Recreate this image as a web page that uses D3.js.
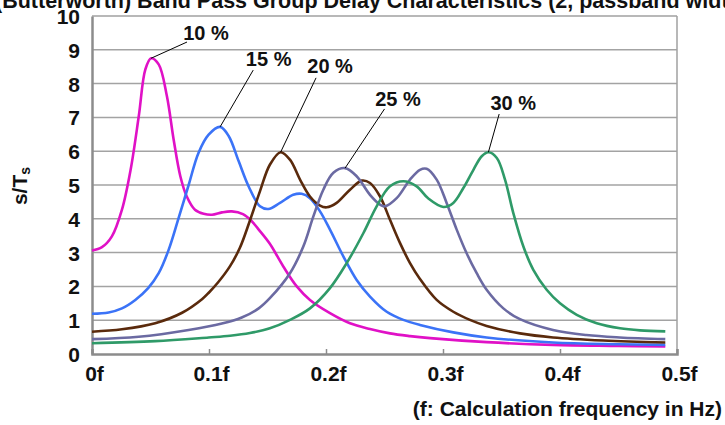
<!DOCTYPE html>
<html><head><meta charset="utf-8">
<script src="https://cdn.jsdelivr.net/npm/d3@7"></script>
<style>
html,body{margin:0;padding:0;background:#fff;overflow:hidden;}
text{font-family:"Liberation Sans",Arial,sans-serif;font-weight:bold;fill:#111;}
</style></head>
<body>
<svg id="c" width="725" height="425"></svg>
<script>
// ---- data ----
const titleText = "(Butterworth) Band Pass Group Delay Characteristics (2, passband width)";
const xTicks = [0, 0.1, 0.2, 0.3, 0.4, 0.5];
const xTickLabels = ["0f", "0.1f", "0.2f", "0.3f", "0.4f", "0.5f"];
const yTicks = [0,1,2,3,4,5,6,7,8,9,10];
const seriesNames = ["10 %", "15 %", "20 %", "25 %", "30 %"];

const f10 = [0, 0.0085, 0.017, 0.0256, 0.033, 0.040, 0.0456, 0.0505, 0.057, 0.064, 0.0698, 0.0755, 0.081, 0.088, 0.0954, 0.1026, 0.111, 0.1195, 0.129, 0.136, 0.1425, 0.152, 0.1635, 0.175, 0.1863, 0.2034, 0.2205, 0.2376, 0.2547, 0.2718, 0.289, 0.3373, 0.394, 0.45, 0.49];
const g10 = [3.06, 3.16, 3.48, 4.27, 5.45, 7.04, 8.42, 8.75, 8.57, 7.63, 6.34, 5.26, 4.66, 4.27, 4.15, 4.12, 4.19, 4.22, 4.14, 3.95, 3.68, 3.26, 2.59, 2.0, 1.60, 1.21, 0.91, 0.74, 0.61, 0.53, 0.47, 0.35, 0.27, 0.24, 0.22];

const f15 = [0, 0.0142, 0.0256, 0.037, 0.048, 0.057, 0.0655, 0.074, 0.0826, 0.091, 0.0997, 0.1095, 0.1168, 0.1254, 0.134, 0.1436, 0.1507, 0.1607, 0.172, 0.1792, 0.1863, 0.1949, 0.2034, 0.2148, 0.2262, 0.2376, 0.2519, 0.2661, 0.2803, 0.3088, 0.3373, 0.394, 0.45, 0.49];
const g15 = [1.19, 1.23, 1.35, 1.60, 1.95, 2.39, 3.08, 4.02, 5.00, 5.95, 6.49, 6.72, 6.45, 5.70, 4.95, 4.37, 4.29, 4.47, 4.71, 4.74, 4.61, 4.22, 3.68, 2.89, 2.19, 1.70, 1.25, 1.01, 0.86, 0.64, 0.49, 0.34, 0.29, 0.27];

const f20 = [0, 0.0256, 0.054, 0.077, 0.094, 0.1, 0.108, 0.118, 0.1265, 0.135, 0.1436, 0.152, 0.1612, 0.1692, 0.1778, 0.1863, 0.1949, 0.2006, 0.2091, 0.2205, 0.2305, 0.2376, 0.2462, 0.2547, 0.2633, 0.2718, 0.2803, 0.2946, 0.3088, 0.323, 0.3373, 0.3658, 0.394, 0.437, 0.49];
const g20 = [0.66, 0.73, 0.91, 1.22, 1.62, 1.82, 2.13, 2.60, 3.15, 3.95, 4.82, 5.6, 5.97, 5.75, 5.16, 4.66, 4.39, 4.34, 4.47, 4.86, 5.13, 5.06, 4.66, 3.97, 3.28, 2.69, 2.22, 1.60, 1.25, 1.01, 0.83, 0.61, 0.49, 0.40, 0.34];

const f25 = [0, 0.04, 0.0826, 0.111, 0.128, 0.1425, 0.152, 0.1692, 0.1806, 0.1892, 0.1977, 0.2063, 0.2163, 0.2262, 0.2376, 0.2462, 0.2505, 0.2604, 0.2718, 0.2803, 0.286, 0.2946, 0.3031, 0.3117, 0.3202, 0.3288, 0.3373, 0.3516, 0.3658, 0.394, 0.4225, 0.451, 0.49];
const g25 = [0.44, 0.51, 0.71, 0.90, 1.08, 1.35, 1.65, 2.39, 3.18, 4.07, 4.86, 5.36, 5.50, 5.26, 4.71, 4.42, 4.37, 4.61, 5.16, 5.45, 5.48, 5.16, 4.47, 3.68, 2.98, 2.39, 1.90, 1.35, 1.03, 0.71, 0.56, 0.49, 0.44];

const f30 = [0, 0.054, 0.0997, 0.118, 0.135, 0.152, 0.1692, 0.1863, 0.2034, 0.2177, 0.232, 0.2433, 0.2547, 0.2661, 0.2775, 0.2875, 0.3003, 0.3088, 0.3174, 0.326, 0.3331, 0.3388, 0.346, 0.353, 0.3601, 0.3687, 0.3772, 0.3886, 0.4, 0.4143, 0.4314, 0.4513, 0.4684, 0.49];
const g30 = [0.32, 0.38, 0.49, 0.54, 0.62, 0.76, 1.01, 1.35, 1.95, 2.69, 3.58, 4.37, 4.96, 5.11, 4.96, 4.6, 4.35, 4.47, 4.91, 5.45, 5.85, 5.97, 5.80, 5.16, 4.17, 3.18, 2.49, 1.90, 1.50, 1.16, 0.91, 0.76, 0.70, 0.67];

// label anchor positions in data space (freq, value)
const labelFreq = [0.0974, 0.151, 0.2035, 0.2615, 0.360];
const labelVal  = [9.30, 8.52, 8.30, 7.35, 7.22];
// leader line start in data space
const leadFreq = [0.0812, 0.1378, 0.1915, 0.250, 0.348];
const leadVal  = [9.23, 8.40, 8.17, 7.25, 7.10];

const colors = ["#e011c6", "#3b73f7", "#5a2a0c", "#6b6aa2", "#2f9a68"];

// ---- drawing ----
const svg = d3.select("#c");
const x = d3.scaleLinear().domain([0, 0.5]).range([92, 677]);
const y = d3.scaleLinear().domain([0, 10]).range([354, 16]);

// title (clipped at top)
svg.append("text").attr("x", -5).attr("y", 7.5).attr("font-size", 21.5).text(titleText);

// gridlines
svg.append("g").selectAll("line").data(yTicks.filter(d => d > 0 && d < 10)).join("line")
  .attr("x1", x(0)).attr("x2", x(0.5)).attr("y1", d => y(d)).attr("y2", d => y(d))
  .attr("stroke", "#a3a3a3").attr("stroke-width", 1.5);

// frame
svg.append("line").attr("x1", x(0)).attr("x2", x(0.5)).attr("y1", y(10)).attr("y2", y(10)).attr("stroke", "#a0a0a0").attr("stroke-width", 1.5);
svg.append("line").attr("x1", x(0.5)).attr("x2", x(0.5)).attr("y1", y(10)).attr("y2", y(0)).attr("stroke", "#a0a0a0").attr("stroke-width", 1.5);

// x axis
const xAxis = d3.axisBottom(x).tickValues(xTicks).tickSize(-5).tickFormat((d, i) => xTickLabels[i]).tickPadding(12);
const gx = svg.append("g").attr("transform", `translate(0,${y(0)})`).call(xAxis);
gx.select(".domain").attr("stroke", "#8c8c8c").attr("stroke-width", 2.5);
gx.selectAll(".tick line").attr("stroke", "#8c8c8c").attr("stroke-width", 1.5);
gx.selectAll(".tick text").attr("font-size", 21).attr("font-family", "Liberation Sans, Arial, sans-serif").attr("font-weight", "bold").attr("fill", "#111").attr("dx", 2);

// y axis
const yAxis = d3.axisLeft(y).tickValues(yTicks).tickSize(0).tickPadding(12).tickFormat(d3.format("d"));
const gy = svg.append("g").attr("transform", `translate(${x(0)},0)`).call(yAxis);
gy.select(".domain").attr("stroke", "#8c8c8c").attr("stroke-width", 2.5);
gy.selectAll(".tick text").attr("font-size", 21).attr("font-family", "Liberation Sans, Arial, sans-serif").attr("font-weight", "bold").attr("fill", "#111").attr("dy", "0.36em");

// axis titles
const yt = svg.append("text").attr("transform", "translate(27,186) rotate(-90)").attr("text-anchor", "middle").attr("font-size", 21);
yt.append("tspan").text("s/T");
yt.append("tspan").attr("font-size", 14).attr("dy", 3).text("s");
svg.append("text").attr("x", 722).attr("y", 416).attr("text-anchor", "end").attr("font-size", 21).text("(f: Calculation frequency in Hz)");

// curves
const freqs = [f10, f15, f20, f25, f30];
const vals = [g10, g15, g20, g25, g30];
const line = d3.line().x(d => x(d[0])).y(d => y(d[1])).curve(d3.curveCatmullRom.alpha(0.5));
const series = freqs.map((f, i) => f.map((v, j) => [v, vals[i][j]]));
svg.append("g").selectAll("path").data(series).join("path")
  .attr("d", line).attr("fill", "none")
  .attr("stroke", (d, i) => colors[i]).attr("stroke-width", 2.6).attr("stroke-linejoin", "round");

// annotations
series.forEach((s, i) => {
  const peak = s.reduce((a, b) => (b[1] > a[1] ? b : a));
  svg.append("line").attr("x1", x(leadFreq[i])).attr("y1", y(leadVal[i]))
    .attr("x2", x(peak[0])).attr("y2", y(peak[1])).attr("stroke", "#000").attr("stroke-width", 1);
  svg.append("text").attr("x", x(labelFreq[i])).attr("y", y(labelVal[i]))
    .attr("text-anchor", "middle").attr("font-size", 20).text(seriesNames[i]);
});
</script>
</body></html>
